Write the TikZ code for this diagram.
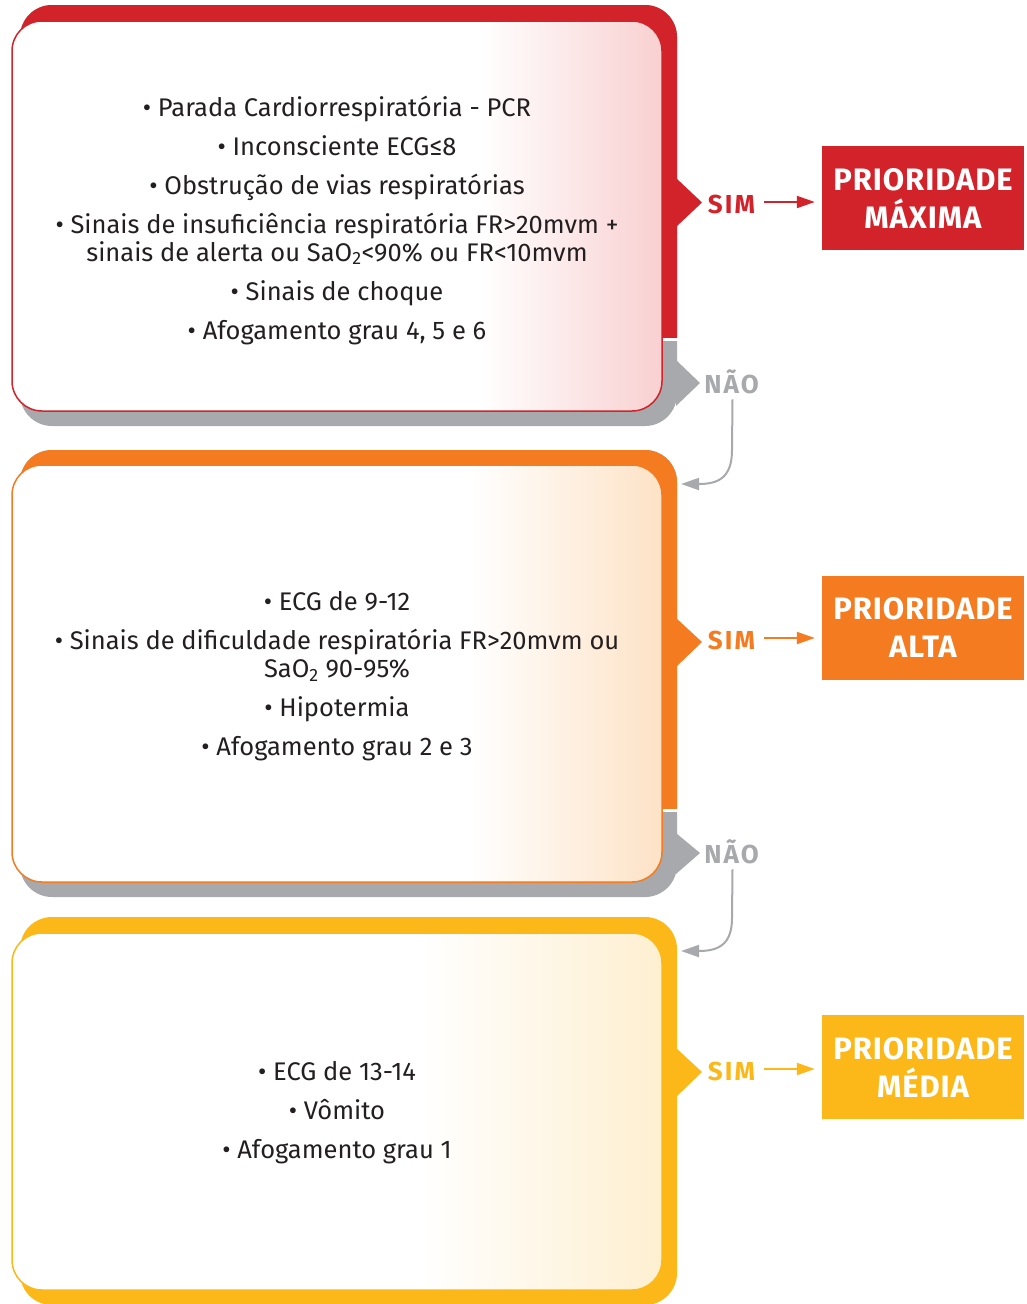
\documentclass[tikz,border=0pt]{standalone}
\usepackage{fontspec}
\setmainfont{Fira Sans}
\newfontfamily\lblfont[LetterSpace=8]{Fira Sans}
\newfontfamily\priofont[LetterSpace=3]{Fira Sans}
\usetikzlibrary{arrows.meta}
\definecolor{redc}{HTML}{D2232A}
\definecolor{orangec}{HTML}{F47B20}
\definecolor{yellowc}{HTML}{FBB818}
\definecolor{grayc}{HTML}{A7A9AC}
\definecolor{txt}{HTML}{231F20}
\definecolor{redt}{HTML}{F9D0D1}
\definecolor{oranget}{HTML}{FDE2C6}
\definecolor{yellowt}{HTML}{FEEFD0}
\begin{document}
\begin{tikzpicture}[x=1pt,y=-1pt,
  body/.style={align=center, text=txt, font=\fontsize{25.5}{28}\selectfont, inner sep=0pt},
  simlbl/.style={font=\lblfont\fontsize{26}{28}\selectfont\bfseries, inner sep=0pt},
  naolbl/.style={font=\lblfont\fontsize{26}{28}\selectfont\bfseries, text=grayc, inner sep=0pt},
  prio/.style={font=\priofont\fontsize{31}{38}\selectfont\bfseries, text=white, align=center,
               minimum width=202pt, minimum height=104pt, inner sep=0pt},
  simarrow/.style={line width=2pt, -{Triangle[length=18pt,width=12pt]}},
  naoarrow/.style={grayc, line width=2pt, -{Triangle[length=18pt,width=12pt]}},
  back/.style={rounded corners=32pt},
  inner/.style={rounded corners=30pt}
]
\useasboundingbox (0,0) rectangle (1026,1304);

% ---------------- Block 1 (red) ----------------
\fill[grayc, back] (20,5) rectangle (677,426);
\fill[white] (15,337) rectangle (680,341);
\begin{scope}
  \clip (0,0) rectangle (1026,337);
  \fill[redc, back] (20,5) rectangle (677,426);
\end{scope}
\fill[redc] (676,178) -- (702,202.5) -- (676,227) -- cycle;
\fill[grayc] (676,360) -- (700,383) -- (676,406) -- cycle;
\begin{scope}
  \clip[inner] (12,21) rectangle (662,411);
  \fill[white] (12,21) rectangle (662,411);
  \shade[left color=white, right color=redt] (480,21) rectangle (662,411);
\end{scope}
\draw[redc, line width=1.5pt, inner] (12,21) rectangle (662,411);
\node[body] (t1) at (337,220) {%
\textbullet{} Parada Cardiorrespiratória - PCR\\[11pt]
\textbullet{} Inconsciente ECG≤8\\[11pt]
\textbullet{} Obstrução de vias respiratórias\\[11pt]
\textbullet{} Sinais de insuficiência respiratória FR>20mvm +\\
sinais de alerta ou SaO\textsubscript{2}<90\% ou FR<10mvm\\[11pt]
\textbullet{} Sinais de choque\\[11pt]
\textbullet{} Afogamento grau 4, 5 e 6};

% ---------------- Block 2 (orange) ----------------
\fill[grayc, back] (20,450) rectangle (677,897);
\fill[white] (15,808) rectangle (680,812);
\begin{scope}
  \clip (0,0) rectangle (1026,808);
  \fill[orangec, back] (20,450) rectangle (677,897);
\end{scope}
\fill[orangec] (676,618) -- (702,642) -- (676,667) -- cycle;
\fill[grayc] (676,833) -- (700,853) -- (676,874) -- cycle;
\begin{scope}
  \clip[inner] (12,465) rectangle (662,882);
  \fill[white] (12,465) rectangle (662,882);
  \shade[left color=white, right color=oranget] (470,465) rectangle (662,882);
\end{scope}
\draw[orangec, line width=1.5pt, inner] (12,465) rectangle (662,882);
\node[body] (t2) at (337,676) {%
\textbullet{} ECG de 9-12\\[11pt]
\textbullet{} Sinais de dificuldade respiratória FR>20mvm ou\\
SaO\textsubscript{2} 90-95\%\\[11pt]
\textbullet{} Hipotermia\\[11pt]
\textbullet{} Afogamento grau 2 e 3};

% ---------------- Block 3 (yellow) ----------------
\fill[yellowc, back] (20,917) rectangle (677,1305);
\fill[yellowc] (676,1048) -- (702,1072) -- (676,1097) -- cycle;
\begin{scope}
  \clip[inner] (12,933) rectangle (662,1290);
  \fill[white] (12,933) rectangle (662,1290);
  \shade[left color=white, right color=yellowt] (420,933) rectangle (662,1290);
\end{scope}
\draw[yellowc, line width=1.5pt, inner] (12,933) rectangle (662,1290);
\node[body] (t3) at (337,1113) {%
\textbullet{} ECG de 13-14\\[11pt]
\textbullet{} Vômito\\[11pt]
\textbullet{} Afogamento grau 1};

% ---------------- Outcomes ----------------
\node[simlbl, text=redc] (sim1) at (731.5,204) {SIM};
\node[prio, fill=redc] (p1) at (923,198) {PRIORIDADE\\MÁXIMA};
\coordinate (s1a) at (764,202);
\draw[simarrow, redc] (s1a) -- ([xshift=-7pt]s1a -| p1.west);

\node[simlbl, text=orangec] (sim2) at (731.5,640) {SIM};
\node[prio, fill=orangec] (p2) at (923,627.5) {PRIORIDADE\\ALTA};
\coordinate (s2a) at (764,638);
\draw[simarrow, orangec] (s2a) -- ([xshift=-7pt]s2a -| p2.west);

\node[simlbl, text=yellowc] (sim3) at (731.5,1071) {SIM};
\node[prio, fill=yellowc] (p3) at (923,1067) {PRIORIDADE\\MÉDIA};
\coordinate (s3a) at (764,1069);
\draw[simarrow, yellowc] (s3a) -- ([xshift=-7pt]s3a -| p3.west);

% ---------------- NÃO connectors ----------------
\node[naolbl] (nao1) at (731.5,382) {NÃO};
\coordinate (e1) at (681,484);
\draw[naoarrow] (nao1.south) ++(1,5) -- (732,450) .. controls (732,478) and (718,484) .. (e1);

\node[naolbl] (nao2) at (731.5,852) {NÃO};
\coordinate (e2) at (681,951);
\draw[naoarrow] (nao2.south) ++(1,5) -- (732,918) .. controls (732,945) and (718,951) .. (e2);
\end{tikzpicture}
\end{document}
